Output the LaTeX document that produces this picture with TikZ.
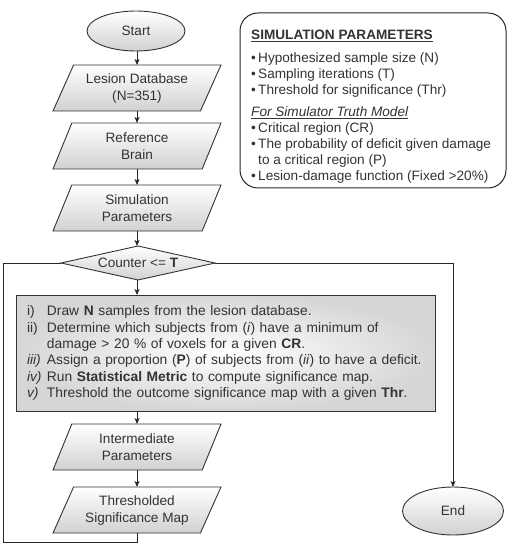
\documentclass[tikz,border=0pt]{standalone}
\usepackage{fontspec}
\setmainfont{Liberation Sans}
\usetikzlibrary{shapes.geometric,arrows.meta}

\begin{document}
\begin{tikzpicture}[x=1pt,y=-1pt,>={Stealth[length=6pt,width=5pt,inset=1.5pt]},
    every node/.style={font=\fontsize{13.6}{17}\selectfont, text=black!80},
    flowline/.style={draw=black!85, line width=0.9pt},
    startstop/.style={ellipse, draw=black!80, line width=0.9pt, top color=white, bottom color=black!18, inner sep=0pt, outer sep=0pt},
    iobox/.style={trapezium, trapezium left angle=57, trapezium right angle=123, trapezium stretches body=true, draw=black!80, line width=0.9pt, top color=white, bottom color=black!18, minimum width=168pt, minimum height=46pt, inner sep=1pt, outer sep=0pt, align=center},
    decision/.style={diamond, draw=black!80, line width=0.9pt, top color=white, bottom color=black!18, minimum width=154pt, minimum height=34pt, aspect=4.5, inner sep=0pt, outer sep=0pt},
    procbox/.style={rectangle, draw=black!80, line width=0.9pt, inner color=white, outer color=black!16, minimum width=419pt, minimum height=116pt, text width=397pt, inner xsep=11pt, outer sep=0pt, align=left, font=\fontsize{13.8}{16.3}\selectfont},
    parambox/.style={rectangle, rounded corners=18pt, draw=black!85, line width=1pt, fill=white, minimum width=266pt, minimum height=175pt},
    paramtext/.style={anchor=north west, inner sep=0pt, align=left, font=\fontsize{13.6}{15.8}\selectfont}
  ]
  \newcommand{\itm}[1]{\makebox[20pt][l]{#1}}

  \useasboundingbox (0,0) rectangle (511,545);
  \coordinate (col) at (137,0);

  % Draw main column
  \node[startstop, minimum width=98pt, minimum height=40pt] (start) at (136,31) {Start};
  \node[iobox] (lesion) at (137,88) {Lesion Database\\(N=351)};
  \node[iobox] (ref) at (137,146) {Reference\\Brain};
  \node[iobox] (simpar) at (137,208) {Simulation\\Parameters};
  \node[decision] (counter) at (138,263) {Counter <= \textbf{T}};
  \node[procbox, anchor=west] (proc) at (16,353) {%
    \itm{i)}Draw \textbf{N} samples from the lesion database.\\
    \itm{ii)}Determine which subjects from (\textit{i}) have a minimum of\\
    \itm{}damage > 20 \% of voxels for a given \textbf{CR}.\\
    \itm{\textit{iii)}}Assign a proportion (\textbf{P}) of subjects from (\textit{ii}) to have a deficit.\\
    \itm{\textit{iv)}}Run \textbf{Statistical Metric} to compute significance map.\\
    \itm{\textit{v)}}Threshold the outcome significance map with a given \textbf{Thr}.};
  \node[iobox] (inter) at (137,447) {Intermediate\\Parameters};
  \node[iobox] (thresh) at (137,510) {Thresholded\\Significance Map};
  \node[startstop, minimum width=101pt, minimum height=48pt] (end) at (453,511) {End};

  % Draw parameter box
  \node[parambox] (params) at (373,100.5) {};
  \node[paramtext] (paramtext) at (251,30) {%
    \underline{\textbf{SIMULATION PARAMETERS}}\\[7pt]
    \textbullet\,Hypothesized sample size (N)\\
    \textbullet\,Sampling iterations (T)\\
    \textbullet\,Threshold for significance (Thr)\\[7pt]
    \underline{\textit{For Simulator Truth Model}}\\
    \textbullet\,Critical region (CR)\\
    \textbullet\,The probability of deficit given damage\\
    \phantom{\textbullet\,}to a critical region (P)\\
    \textbullet\,Lesion-damage function (Fixed >20\%)};

  % Draw arrows
  \foreach \a/\b in {start/lesion,lesion/ref,ref/simpar,simpar/counter,counter/proc,proc/inter,inter/thresh} {
    \draw[flowline,->] (\a.south -| col) -- (\b.north -| col);
  }

  % Draw loop back and exit
  \coordinate (loopbot) at (3,542);
  \draw[flowline] (thresh.south) |- (loopbot) |- (counter.west);
  \draw[flowline,->] (counter.east) -| (end.north);
\end{tikzpicture}
\end{document}
